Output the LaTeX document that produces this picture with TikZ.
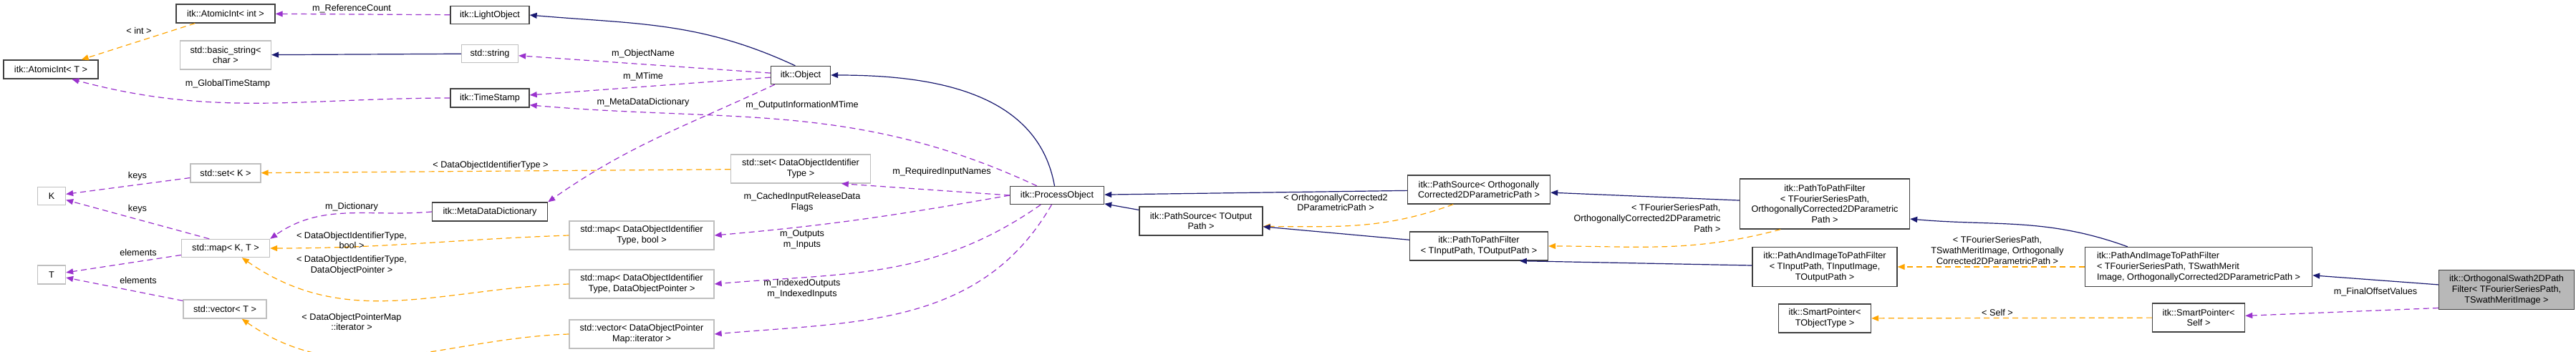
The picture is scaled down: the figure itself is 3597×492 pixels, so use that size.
\documentclass[tikz,border=0pt]{standalone}
\usepackage{fontspec}
\setmainfont{Liberation Sans}
\usetikzlibrary{arrows.meta}
\definecolor{inhc}{HTML}{191970}
\definecolor{usec}{HTML}{9A32CD}
\definecolor{tplc}{HTML}{FFA500}
\begin{document}
\begin{tikzpicture}[x=0.75pt,y=-0.75pt,
  every node/.style={font=\fontsize{9.5}{11.2}\selectfont, inner sep=0pt},
  sz/.style 2 args={minimum width=#1*0.75pt, minimum height=#2*0.75pt},
  box/.style={draw=black!75, line width=1pt, fill=white, align=center},
  gbox/.style={draw=black!25, line width=1pt, fill=white, align=center},
  mbox/.style={draw=black!75, line width=1pt, fill=black!28, align=center},
  tip/.style={-{Triangle[length=7.5pt,width=6pt]}},
  inh/.style={tip, draw=inhc, line width=0.9pt},
  use/.style={tip, draw=usec, line width=0.9pt, dash pattern=on 6pt off 4pt},
  tpl/.style={tip, draw=tplc, line width=0.9pt, dash pattern=on 6pt off 4pt},
  lab/.style={align=center, fill=none}
]
\useasboundingbox[fill=white] (0,0) rectangle (3597,492);
% nodes
\node[box,sz={138}{26}] (AIi) at (315,19) {itk::AtomicInt< int >};
\node[box,sz={132}{26}] (AIT) at (71,97) {itk::AtomicInt< T >};
\node[gbox,sz={127}{40}] (bstr) at (315,77) {std::basic\_string<\\char >};
\node[box,sz={110}{25}] (LO) at (684,21) {itk::LightObject};
\node[gbox,sz={79}{25}] (str) at (684,75) {std::string};
\node[box,sz={110}{26}] (TS) at (684,137) {itk::TimeStamp};
\node[gbox,sz={98}{26}] (setK) at (315,242) {std::set< K >};
\node[gbox,sz={39}{25}] (K) at (72,274) {K};
\node[gbox,sz={39}{26}] (T) at (72,384) {T};
\node[gbox,sz={123}{25}] (mapKT) at (315,347) {std::map< K, T >};
\node[gbox,sz={116}{26}] (vecT) at (314,432) {std::vector< T >};
\node[box,sz={161}{26}] (MDD) at (684,296) {itk::MetaDataDictionary};
\node[box,sz={83}{25}] (Obj) at (1118,105) {itk::Object};
\node[gbox,sz={195}{40}] (setD) at (1118,236) {std::set< DataObjectIdentifier\\Type >};
\node[gbox,sz={202}{40}] (mapB) at (896,329) {std::map< DataObjectIdentifier\\Type, bool >};
\node[gbox,sz={202}{40}] (mapP) at (896,397) {std::map< DataObjectIdentifier\\Type, DataObjectPointer >};
\node[gbox,sz={202}{40}] (vecP) at (896,467) {std::vector< DataObjectPointer\\Map::iterator >};
\node[box,sz={131}{25}] (PO) at (1476,273) {itk::ProcessObject};
\node[box,sz={172}{40}] (PST) at (1677,309) {itk::PathSource< TOutput\\Path >};
\node[box,sz={199}{40}] (PSO) at (2065,265) {itk::PathSource< Orthogonally\\Corrected2DParametricPath >};
\node[box,sz={193}{40}] (PTI) at (2065,344) {itk::PathToPathFilter\\< TInputPath, TOutputPath >};
\node[box,sz={237}{70}] (PTF) at (2548,285) {itk::PathToPathFilter\\< TFourierSeriesPath,\\OrthogonallyCorrected2DParametric\\Path >};
\node[box,sz={202}{55}] (PAI) at (2548,373) {itk::PathAndImageToPathFilter\\< TInputPath, TInputImage,\\TOutputPath >};
\node[box,sz={129}{40}] (SPT) at (2548,445) {itk::SmartPointer<\\TObjectType >};
\node[box,sz={317}{55},align=left] (PAF) at (3070,373) {itk::PathAndImageToPathFilter\\< TFourierSeriesPath, TSwathMerit\\Image, OrthogonallyCorrected2DParametricPath >};
\node[box,sz={129}{40}] (SPS) at (3070,444) {itk::SmartPointer<\\Self >};
\node[mbox,sz={189}{55}] (OSF) at (3500,405) {itk::OrthogonalSwath2DPath\\Filter< TFourierSeriesPath,\\TSwathMeritImage >};
% edges
\draw[use] (LO) -- (AIi) node[lab] at (491,12) {m\_ReferenceCount};
\draw[tpl] (AIi) -- (AIT) node[lab] at (194,43) {< int >};
\draw[inh] (str) -- (bstr);
\draw[use] (TS.west) to[out=180,in=-15] (AIT.-25) node[lab] at (318,117) {m\_GlobalTimeStamp};
\draw[inh] (Obj.120) to[out=155,in=-5] (LO.east);
\draw[use] (Obj) -- (str) node[lab] at (898,75) {m\_ObjectName};
\draw[use] (Obj) -- (TS) node[lab] at (898,107) {m\_MTime};
\draw[use] (Obj.200) to[out=205,in=35] (MDD.north east) node[lab] at (898,143) {m\_MetaDataDictionary};
\draw[inh] (PO.105) to[out=100,in=0] (Obj.east);
\draw[use] (PO.155) to[out=155,in=-5] (TS.-10) node[lab] at (1120,147) {m\_OutputInformationMTime};
\draw[use] (PO.west) -- (setD.-20) node[lab] at (1315,240) {m\_RequiredInputNames};
\draw[use] (PO.west) to[out=190,in=5] (mapB.east) node[lab] at (1120,283) {m\_CachedInputReleaseData\\Flags};
\draw[use] (PO.210) to[out=215,in=5] (mapP.east) node[lab] at (1120,335) {m\_Outputs\\m\_Inputs};
\draw[use] (PO.240) to[out=240,in=5] (vecP.east) node[lab] at (1120,404) {m\_IndexedOutputs\\m\_IndexedInputs};
\draw[tpl] (setD) -- (setK) node[lab] at (685,231) {< DataObjectIdentifierType >};
\draw[use] (setK) -- (K) node[lab] at (192,246) {keys};
\draw[use] (mapKT.150) -- (K) node[lab] at (192,292) {keys};
\draw[use] (mapKT) -- (T) node[lab] at (193,353) {elements};
\draw[use] (vecT) -- (T) node[lab] at (193,392) {elements};
\draw[use] (MDD.west) to[out=185,in=35] (mapKT.north east) node[lab] at (491,289) {m\_Dictionary};
\draw[tpl] (mapB.west) to[out=182,in=0] (mapKT.east) node[lab] at (491,336) {< DataObjectIdentifierType,\\bool >};
\draw[tpl] (mapP.west) to[out=182,in=-35] (mapKT.-30) node[lab] at (491,371) {< DataObjectIdentifierType,\\DataObjectPointer >};
\draw[tpl] (vecP.west) to[out=182,in=-35] (vecT.-30) node[lab] at (491,450) {< DataObjectPointerMap\\::iterator >};
\draw[inh] (PST) -- (PO);
\draw[inh] (PSO) -- (PO);
\draw[tpl] (PSO.-150) to[out=200,in=0] (PST.-5) node[lab] at (1865,283) {< OrthogonallyCorrected2\\DParametricPath >};
\draw[inh] (PTI) -- (PST);
\draw[inh] (PTF) -- (PSO);
\draw[tpl] (PTF.-150) to[out=195,in=0] (PTI.east) node[lab,align=right] at (2300,305) {< TFourierSeriesPath,\\OrthogonallyCorrected2DParametric\\Path >};
\draw[inh] (PAI) -- (PTI.-20);
\draw[inh] (PAF.north west) ++(60,0) to[out=160,in=-5] (PTF.-10);
\draw[tpl] (PAF) -- (PAI) node[lab] at (2789,350) {< TFourierSeriesPath,\\TSwathMeritImage, Orthogonally\\Corrected2DParametricPath >};
\draw[tpl] (SPS) -- (SPT) node[lab] at (2789,437) {< Self >};
\draw[inh] (OSF) -- (PAF);
\draw[use] (OSF.-165) -- (SPS) node[lab] at (3317,408) {m\_FinalOffsetValues};
\end{tikzpicture}
\end{document}
